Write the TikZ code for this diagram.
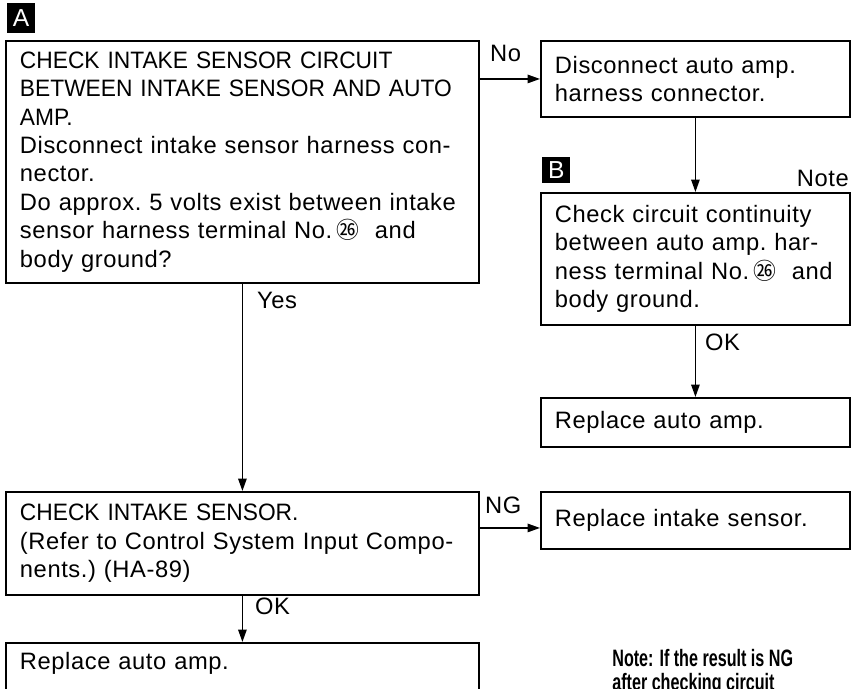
\documentclass[tikz,border=0pt]{standalone}
\usepackage{fontspec}
\setmainfont{Liberation Sans}[LetterSpace=2.5]
\newfontfamily\capsfont{Liberation Sans}[FakeStretch=0.96]
\newfontfamily\cjk{Noto Sans CJK SC}
\newfontfamily\notefont{Liberation Sans Bold}[FakeStretch=0.68]
\usetikzlibrary{arrows.meta,positioning}
\newcommand{\termno}{{\cjk\fontsize{13}{13}\selectfont ㉖}}
\newcommand{\caps}[1]{\mbox{\capsfont #1}}
\tikzset{
  cbox/.style={
    rectangle, draw=black, line width=1.1pt, anchor=north west,
    inner xsep=0pt, inner ysep=0pt, align=left,
    font=\fontsize{13.5}{16.2}\selectfont\frenchspacing
  },
  wide/.style={cbox, minimum width=9.46cm, text width=8.9cm},
  narrow/.style={cbox, minimum width=6.18cm, text width=5.62cm},
  tag/.style={
    rectangle, fill=black, text=white, inner sep=0pt,
    font=\fontsize{14}{14}\selectfont,
    minimum width=0.56cm, minimum height=0.6cm
  },
  lbl/.style={font=\fontsize{13.5}{16.2}\selectfont, inner sep=1pt},
  arr/.style={-{Triangle[length=0.25cm,width=0.17cm]}, line width=0.85pt, black}
}
\begin{document}
\begin{tikzpicture}[x=0.02cm, y=-0.02cm]
\useasboundingbox (0,0) rectangle (859,689);
\clip (0,0) rectangle (859,689);

% ── Left column ───────────────────────────────────────────────────
\node[tag] (tagA) at (21,18) {A};

\node[wide, minimum height=4.84cm] (circ) at (5,40)
  {\caps{CHECK INTAKE SENSOR CIRCUIT}\\
   \caps{BETWEEN INTAKE SENSOR AND AUTO}\\
   \caps{AMP.}\\
   Disconnect intake sensor harness con-\\
   nector.\\
   \mbox{Do approx. 5 volts exist between intake}\\
   sensor harness terminal No.\,\termno\ \ and\\
   body ground?};

\node[wide, minimum height=2.06cm] (sens) at (5,491)
  {\caps{CHECK INTAKE SENSOR.}\\
   \mbox{(Refer to Control System Input Compo-}\\
   nents.) (HA-89)};

% box runs on below the page edge
\node[wide, text height=0.53cm, text depth=3cm] (amp2) at (5,642)
  {Replace auto amp.};

% ── Right column ──────────────────────────────────────────────────
\node[narrow, minimum height=1.52cm] (disc) at (540,40)
  {Disconnect auto amp.\\ harness connector.};

\node[narrow, minimum height=2.64cm] (cont) at (540,192)
  {Check circuit continuity\\
   between auto amp. har-\\
   ness terminal No.\,\termno\ \ and\\
   body ground.};

\node[tag, minimum height=0.52cm, anchor=south west] (tagB)
  at ([xshift=0.04cm, yshift=0.18cm]cont.north west) {B};
\node[lbl, anchor=base east] (note)
  at ([yshift=0.11cm]cont.north east) {Note};

\node[narrow, minimum height=0.98cm] (amp1) at (540,397)
  {Replace auto amp.};

\node[narrow, minimum height=1.14cm] (repl) at (540,491)
  {Replace intake sensor.};

% ── Flow arrows ───────────────────────────────────────────────────
\draw[arr] (circ.east |- disc.west) -- (disc.west);
\draw[arr] (disc) -- (cont);
\draw[arr] (cont) -- (amp1);
\draw[arr] (circ) -- (sens);
\coordinate (ngend) at ([yshift=-0.15cm]repl.west);
\draw[arr] (sens.east |- ngend) -- (ngend);
\draw[arr] (sens) -- (amp2);

% ── Branch labels ─────────────────────────────────────────────────
\node[lbl, anchor=west] (no)  at (488,53)  {No};
\node[lbl, anchor=west] (yes) at (255,300) {Yes};
\node[lbl, anchor=west] (ok1) at (703,342) {OK};
\node[lbl, anchor=west] (ng)  at (483,505) {NG};
\node[lbl, anchor=west] (ok2) at (253,606) {OK};

% ── Footnote (cut by page edge) ───────────────────────────────────
\node[anchor=north west, align=left, inner sep=0pt,
      font=\notefont\fontsize{13.5}{13.8}\selectfont] (warn) at (612,649)
  {Note: If the result is NG\\ after checking circuit};

\end{tikzpicture}
\end{document}
